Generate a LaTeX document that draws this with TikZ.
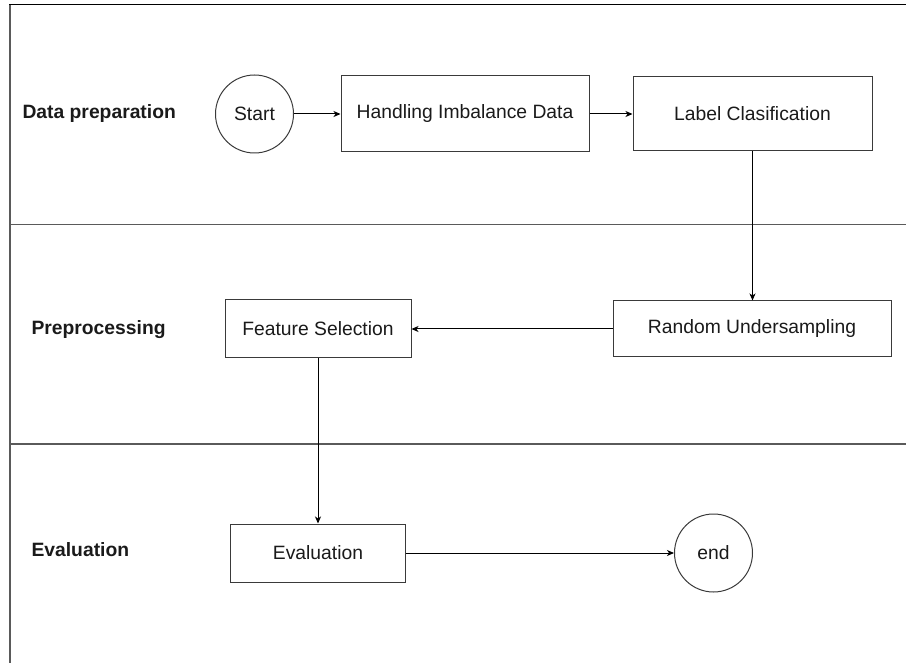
\documentclass[tikz,border=0pt]{standalone}
\usepackage{fontspec}
\setmainfont{Liberation Sans}
\usetikzlibrary{arrows.meta}
\definecolor{txt}{HTML}{1A1A1A}
\definecolor{lanecol}{HTML}{5A5A5A}
\definecolor{boxcol}{HTML}{3A3A3A}
\begin{document}
\begin{tikzpicture}[x=1pt,y=-1pt,
  every node/.style={font=\fontsize{19.3}{23}\selectfont, text=txt},
  box/.style={draw=boxcol, line width=1pt, inner sep=0pt, fill=white},
  term/.style={draw=boxcol, line width=1pt, circle, inner sep=0pt, minimum size=78pt, fill=white},
  lanelabel/.style={anchor=west, font=\fontsize{19.3}{23}\selectfont\bfseries},
  lane/.style={draw=lanecol, line width=1.2pt},
  conn/.style={draw=black, line width=1pt, -{Stealth[length=7pt,width=6pt,inset=2pt]}}
]
\useasboundingbox (0,0) rectangle (906,663);
% swimlanes
\draw[lane] (10,663) -- (10,4.5);
\draw[draw=black, line width=1.3pt] (9.4,4.5) -- (906,4.5);
\draw[lane] (10,224.5) -- (906,224.5);
\draw[lane] (10,444) -- (906,444);
% lane labels
\node[lanelabel] (l1) at (19,114) {Data preparation};
\node[lanelabel] (l2) at (28,330) {Preprocessing};
\node[lanelabel] (l3) at (28,550) {Evaluation};
% nodes
\node[term] (start) at (254.5,114) {Start};
\node[box, minimum width=248pt, minimum height=76pt] (hid) at (465,114) {Handling Imbalance Data};
\node[box, minimum width=239pt, minimum height=74pt] (lab) at (752.5,114) {Label Clasification};
\node[box, minimum width=278pt, minimum height=56pt] (rnd) at (752,329) {Random Undersampling};
\node[box, minimum width=186pt, minimum height=58pt] (fs) at (318,329) {Feature Selection};
\node[box, minimum width=175pt, minimum height=58pt] (ev) at (318,553) {Evaluation};
\node[term] (end) at (713.5,553) {end};
% connectors
\draw[conn] (start) -- (hid);
\draw[conn] (hid) -- (lab);
\draw[conn] (lab.south) -- (rnd.north -| lab.south);
\draw[conn] (rnd) -- (fs);
\draw[conn] (fs.south) -- (ev.north);
\draw[conn] (ev) -- (end);
\end{tikzpicture}
\end{document}
